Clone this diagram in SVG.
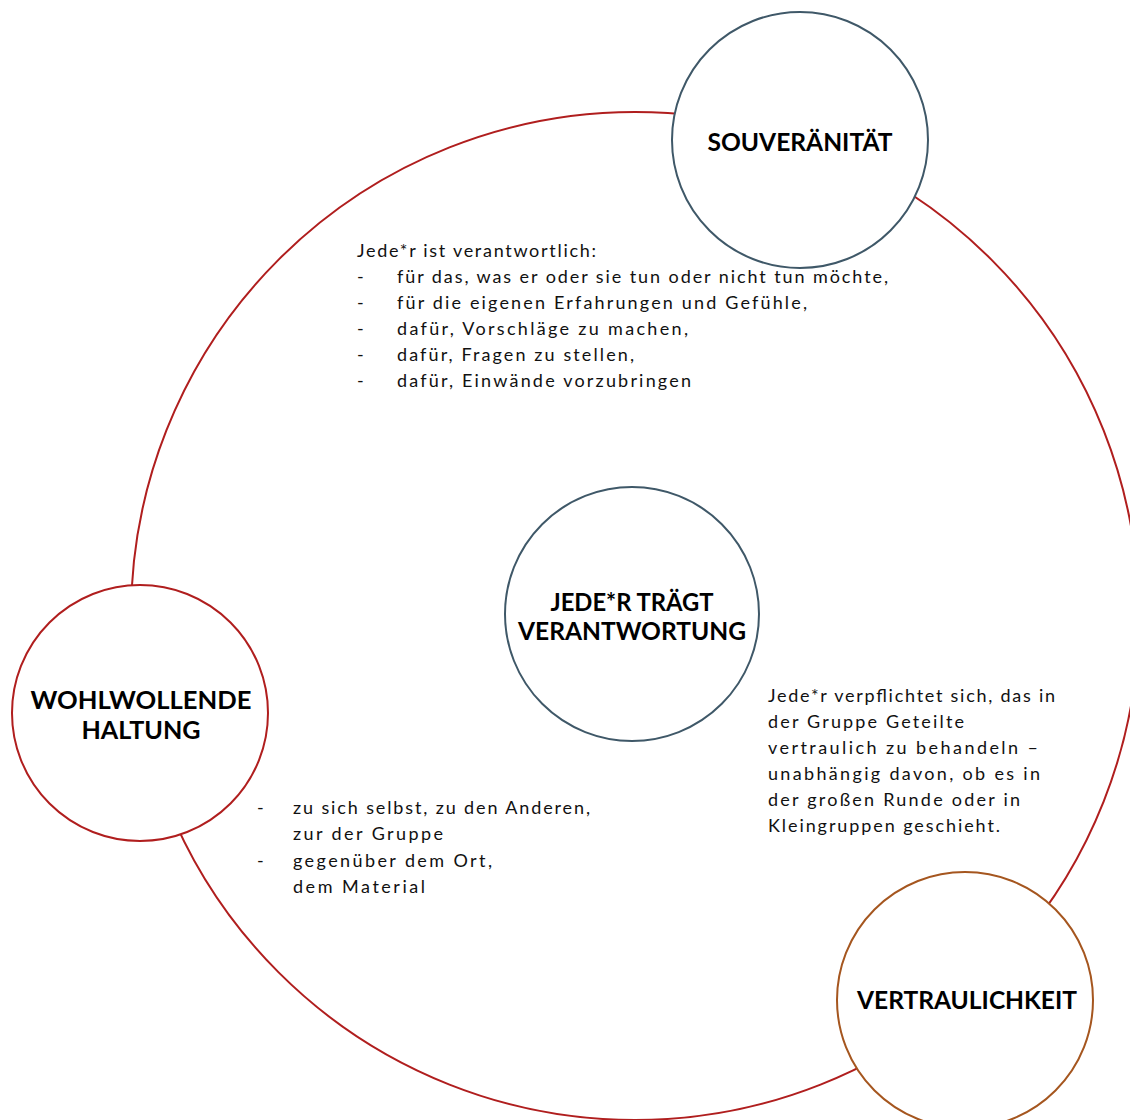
<svg xmlns="http://www.w3.org/2000/svg" width="1130" height="1120" viewBox="0 0 1130 1120">
  <style>
    .ring { fill: none; stroke: #b01e1e; stroke-width: 2; }
    .node { fill: #ffffff; stroke-width: 2; }
    .slate { stroke: #3f5868; }
    .red { stroke: #b01e1e; }
    .brown { stroke: #a5561f; }
    .title { font-family: "Lato", "Liberation Sans", sans-serif; font-weight: 700; font-size: 24px; fill: #000000; text-anchor: middle; }
    .body { font-family: "Lato", "Liberation Sans", sans-serif; font-size: 18px; fill: #111111; }
  </style>
  <rect width="1130" height="1120" fill="#ffffff"/>

  <!-- connecting ring -->
  <g id="connectors">
    <circle class="ring" cx="635" cy="616" r="504"/>
  </g>

  <!-- text inside the ring -->
  <g id="text-souveraenitaet">
    <text class="body" x="357" y="257" textLength="239" lengthAdjust="spacing">Jede*r ist verantwortlich:</text>
    <text class="body" x="357" y="283">-</text>
    <text class="body" x="397" y="283" textLength="491" lengthAdjust="spacing">für das, was er oder sie tun oder nicht tun möchte,</text>
    <text class="body" x="357" y="309">-</text>
    <text class="body" x="397" y="309" textLength="410" lengthAdjust="spacing">für die eigenen Erfahrungen und Gefühle,</text>
    <text class="body" x="357" y="335">-</text>
    <text class="body" x="397" y="335" textLength="291" lengthAdjust="spacing">dafür, Vorschläge zu machen,</text>
    <text class="body" x="357" y="361">-</text>
    <text class="body" x="397" y="361" textLength="237" lengthAdjust="spacing">dafür, Fragen zu stellen,</text>
    <text class="body" x="357" y="387">-</text>
    <text class="body" x="397" y="387" textLength="294" lengthAdjust="spacing">dafür, Einwände vorzubringen</text>
  </g>

  <g id="text-vertraulichkeit">
    <text class="body" x="768" y="702" textLength="287" lengthAdjust="spacing">Jede*r verpflichtet sich, das in</text>
    <text class="body" x="768" y="728" textLength="196" lengthAdjust="spacing">der Gruppe Geteilte</text>
    <text class="body" x="768" y="754" textLength="270" lengthAdjust="spacing">vertraulich zu behandeln –</text>
    <text class="body" x="768" y="780" textLength="272" lengthAdjust="spacing">unabhängig davon, ob es in</text>
    <text class="body" x="768" y="806" textLength="252" lengthAdjust="spacing">der großen Runde oder in</text>
    <text class="body" x="768" y="832" textLength="232" lengthAdjust="spacing">Kleingruppen geschieht.</text>
  </g>

  <g id="text-haltung">
    <text class="body" x="257" y="814">-</text>
    <text class="body" x="293" y="814" textLength="297" lengthAdjust="spacing">zu sich selbst, zu den Anderen,</text>
    <text class="body" x="293" y="840" textLength="150" lengthAdjust="spacing">zur der Gruppe</text>
    <text class="body" x="257" y="867">-</text>
    <text class="body" x="293" y="867" textLength="199" lengthAdjust="spacing">gegenüber dem Ort,</text>
    <text class="body" x="293" y="893" textLength="132" lengthAdjust="spacing">dem Material</text>
  </g>

  <!-- nodes -->
  <g id="node-souveraenitaet">
    <circle class="node slate" cx="800" cy="140" r="128"/>
    <text class="title" x="800" y="151" textLength="185" lengthAdjust="spacingAndGlyphs">SOUVERÄNITÄT</text>
  </g>

  <g id="node-verantwortung">
    <circle class="node slate" cx="632" cy="614" r="127"/>
    <text class="title" x="632" y="611" textLength="163" lengthAdjust="spacingAndGlyphs">JEDE*R TRÄGT</text>
    <text class="title" x="632" y="640" textLength="228" lengthAdjust="spacingAndGlyphs">VERANTWORTUNG</text>
  </g>

  <g id="node-haltung">
    <circle class="node red" cx="140" cy="713" r="128"/>
    <text class="title" x="141" y="709" textLength="221" lengthAdjust="spacingAndGlyphs">WOHLWOLLENDE</text>
    <text class="title" x="141" y="739" textLength="119" lengthAdjust="spacingAndGlyphs">HALTUNG</text>
  </g>

  <g id="node-vertraulichkeit">
    <circle class="node brown" cx="965" cy="1000" r="128"/>
    <text class="title" x="967" y="1009" textLength="220" lengthAdjust="spacingAndGlyphs">VERTRAULICHKEIT</text>
  </g>
</svg>
